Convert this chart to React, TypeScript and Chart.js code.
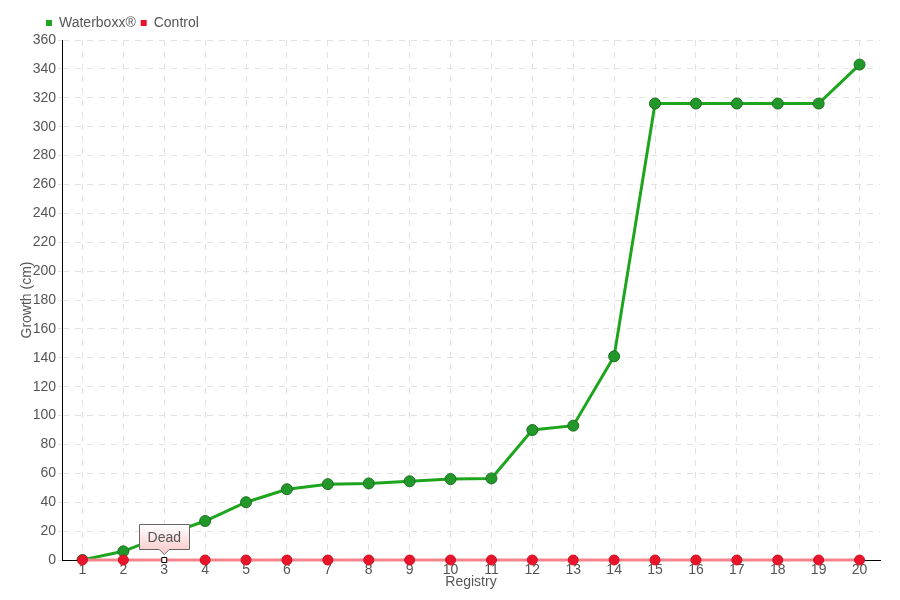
import React, { useEffect, useRef } from "react";
import { Chart, registerables } from "chart.js";
Chart.register(...registerables);

const registry = ["1","2","3","4","5","6","7","8","9","10","11","12","13","14","15","16","17","18","19","20"];
const waterboxx = [0, 6, 17, 27, 40, 49, 52.5, 53, 54.5, 56, 56.5, 90, 93, 141, 316, 316, 316, 316, 316, 343];
const control = [0, 0, 0, 0, 0, 0, 0, 0, 0, 0, 0, 0, 0, 0, 0, 0, 0, 0, 0, 0];
const deadIndex = 2;
const deadLabel = "Dead";

const FAMILY = "'Liberation Sans', Arial, sans-serif";
const font = (size: number) => ({ family: FAMILY, size });

const deadPlugin = {
  id: "deadTip",
  afterLayout(chart: any) {
    if (chart.legend) {
      chart.legend.left += 23;
      chart.legend.right += 23;
    }
  },
  afterDatasetsDraw(chart: any) {
    const meta = chart.getDatasetMeta(1);
    const pt = meta.data[deadIndex];
    if (!pt) return;
    const ctx = chart.ctx;
    const x = pt.x, y = pt.y;
    const w = 50, h = 25;
    const bx = Math.round(x - w / 2) + 0.5, by = Math.round(y - 11 - h) + 0.5;
    ctx.save();
    const g = ctx.createLinearGradient(0, by, 0, by + h);
    g.addColorStop(0, "#ffffff");
    g.addColorStop(1, "#fbd0d0");
    ctx.beginPath();
    ctx.moveTo(bx, by);
    ctx.lineTo(bx + w, by);
    ctx.lineTo(bx + w, by + h);
    ctx.lineTo(x + 5, by + h);
    ctx.lineTo(x, by + h + 5);
    ctx.lineTo(x - 5, by + h);
    ctx.lineTo(bx, by + h);
    ctx.closePath();
    ctx.fillStyle = g;
    ctx.fill();
    ctx.strokeStyle = "#666";
    ctx.lineWidth = 1;
    ctx.stroke();
    ctx.fillStyle = "#555";
    ctx.font = "14px " + FAMILY;
    ctx.textAlign = "center";
    ctx.textBaseline = "middle";
    ctx.fillText(deadLabel, x, by + h / 2 + 1);
    ctx.restore();
  },
};

export default function App() {
  const ref = useRef<HTMLCanvasElement>(null);
  useEffect(() => {
    const pointStyles = control.map((_, i) => (i === deadIndex ? "rect" : "circle"));
    const pointBg = control.map((_, i) => (i === deadIndex ? "#ffffff" : "#e8142c"));
    const pointBorder = control.map((_, i) => (i === deadIndex ? "#000000" : "#d01020"));
    const pointRad = control.map((_, i) => (i === deadIndex ? 3.5 : 5));
    const chart = new Chart(ref.current!, {
      type: "line",
      data: {
        labels: registry,
        datasets: [
          {
            label: "Waterboxx®",
            data: waterboxx,
            borderColor: "#1ea51e",
            backgroundColor: "#1ea51e",
            borderWidth: 3,
            pointRadius: 5.5,
            pointBackgroundColor: "#22982a",
            pointBorderColor: "#1a701e",
            pointBorderWidth: 1,
            tension: 0,
            order: 2,
          },
          {
            label: "Control",
            data: control,
            borderColor: "#f4848c",
            backgroundColor: "#e8142c",
            borderWidth: 3,
            pointStyle: pointStyles as any,
            pointRadius: pointRad as any,
            pointBackgroundColor: pointBg as any,
            pointBorderColor: pointBorder as any,
            pointBorderWidth: 1,
            tension: 0,
            order: 1,
            clip: false as any,
          },
        ],
      },
      options: {
        animation: false,
        responsive: false,
        layout: { padding: { left: 18, right: 20, top: 11, bottom: 9 } },
        plugins: {
          legend: {
            position: "top",
            align: "start",
            labels: {
              boxWidth: 6,
              boxHeight: 6,
              padding: 5,
              color: "#555",
              font: font(14),
              generateLabels: (c: any) =>
                c.data.datasets.map((d: any, i: number) => ({
                  text: d.label,
                  fillStyle: i === 0 ? "#1ea51e" : "#e8142c",
                  strokeStyle: i === 0 ? "#1ea51e" : "#e8142c",
                  lineWidth: 0,
                  datasetIndex: i,
                  hidden: false,
                  fontColor: "#555",
                })),
            },
          },
          tooltip: { enabled: false },
        },
        scales: {
          x: {
            offset: true,
            afterFit: (s: any) => { s.height = 31; },
            title: { display: true, text: "Registry", color: "#555", font: font(14), padding: 0 },
            ticks: { color: "#555", font: font(14), padding: 1, maxRotation: 0 },
            grid: { color: "#e2e2e2", tickLength: 1, drawTicks: true },
            border: { color: "#000", width: 1, dash: [6, 6] } as any,
          },
          y: {
            min: 0,
            max: 360,
            afterFit: (s: any) => { s.width = 44; },
            title: { display: true, text: "Growth (cm)", color: "#555", font: font(14), padding: 1 },
            ticks: { stepSize: 20, color: "#555", font: font(14), padding: 2 },
            grid: { color: "#e2e2e2", tickLength: 4 },
            border: { color: "#000", width: 1, dash: [6, 6] } as any,
          },
        },
      },
      plugins: [deadPlugin],
    });
    return () => chart.destroy();
  }, []);
  return (
    <div style={{ position: "fixed", left: 0, top: 0, width: 900, height: 600, background: "#fff" }}>
      <canvas ref={ref} width={900} height={600} />
    </div>
  );
}
